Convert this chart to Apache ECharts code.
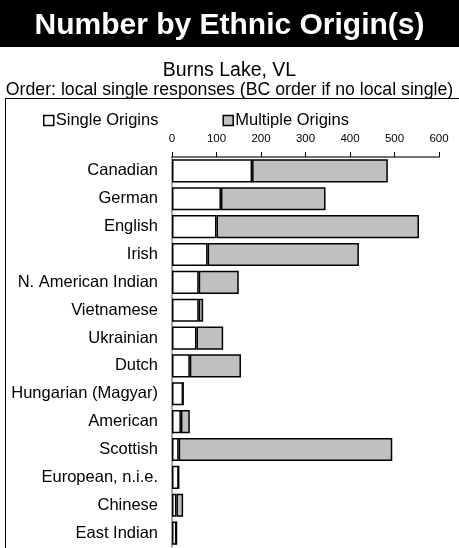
<!DOCTYPE html>
<html lang="en">
<head>
<meta charset="UTF-8">
<title>Number by Ethnic Origin(s)</title>
<script src="https://cdn.jsdelivr.net/npm/echarts@6/dist/echarts.min.js"></script>
<style>
  html, body { margin: 0; padding: 0; background: #fff; }
  #chart { width: 459px; height: 548px; }
</style>
</head>
<body>
<div id="chart"></div>
<script>
var categories = ['Canadian', 'German', 'English', 'Irish', 'N. American Indian', 'Vietnamese',
    'Ukrainian', 'Dutch', 'Hungarian (Magyar)', 'American', 'Scottish', 'European, n.i.e.',
    'Chinese', 'East Indian'];
var singleOrigins = [180, 110, 100, 80, 60, 60, 55, 40, 25, 20, 15, 15, 10, 10];
var multipleOrigins = [305, 235, 455, 340, 90, 10, 60, 115, 0, 20, 480, 0, 15, 0];
var tickValues = [0, 100, 200, 300, 400, 500, 600];

var font = 'Liberation Sans, Arial, sans-serif';
var chart = echarts.init(document.getElementById('chart'));

var option = {
    animation: false,
    backgroundColor: '#fff',
    graphic: [
        { type: 'rect', shape: { x: 0, y: 0, width: 459, height: 47 }, style: { fill: '#000' }, z: 0 },
        { type: 'line', shape: { x1: 5, y1: 98.5, x2: 459, y2: 98.5 }, style: { stroke: '#000', lineWidth: 1 } },
        { type: 'line', shape: { x1: 5.5, y1: 98, x2: 5.5, y2: 548 }, style: { stroke: '#000', lineWidth: 1 } }
    ],
    title: [
        {
            text: 'Number by Ethnic Origin(s)',
            left: 'center', top: 6,
            textStyle: { color: '#fff', fontFamily: font, fontWeight: 'bold', fontSize: 30 }
        },
        {
            text: 'Burns Lake, VL',
            left: 'center', top: 56,
            textStyle: { color: '#000', fontFamily: font, fontWeight: 'normal', fontSize: 19.5 }
        },
        {
            text: 'Order: local single responses (BC order if no local single)',
            left: 'center', top: 76,
            textStyle: { color: '#000', fontFamily: font, fontWeight: 'normal', fontSize: 17.7 }
        }
    ],
    legend: {
        left: 38, top: 107,
        icon: 'rect',
        itemWidth: 10, itemHeight: 10, itemGap: 64,
        itemStyle: { borderColor: '#000', borderWidth: 1.5 },
        textStyle: { fontFamily: font, fontSize: 16.5, color: '#000', padding: [0, 0, 0, -3] },
        data: ['Single Origins', 'Multiple Origins']
    },
    grid: { left: 172, right: 20, top: 157, bottom: 1, containLabel: false },
    xAxis: {
        type: 'value', position: 'top',
        min: tickValues[0], max: tickValues[tickValues.length - 1], interval: 100,
        axisLine: { show: true, lineStyle: { color: '#444', width: 1.5 } },
        axisTick: { show: true, length: 5, lineStyle: { color: '#000' } },
        axisLabel: { fontFamily: font, fontSize: 11.5, color: '#000', margin: 12 },
        splitLine: { show: false }
    },
    yAxis: {
        type: 'category', inverse: true, data: categories,
        axisLine: { show: true, lineStyle: { color: '#888', width: 1.5 } },
        axisTick: { show: false },
        axisLabel: { fontFamily: font, fontSize: 16.5, color: '#000', margin: 14 }
    },
    series: [
        {
            name: 'Single Origins', type: 'bar', stack: 'total',
            barCategoryGap: '17%', data: singleOrigins,
            itemStyle: { color: '#fff', borderColor: '#000', borderWidth: 1.5 }
        },
        {
            name: 'Multiple Origins', type: 'bar', stack: 'total',
            barCategoryGap: '17%', data: multipleOrigins,
            itemStyle: { color: '#c0c0c0', borderColor: '#000', borderWidth: 1.5 }
        }
    ]
};
chart.setOption(option);
</script>
</body>
</html>
